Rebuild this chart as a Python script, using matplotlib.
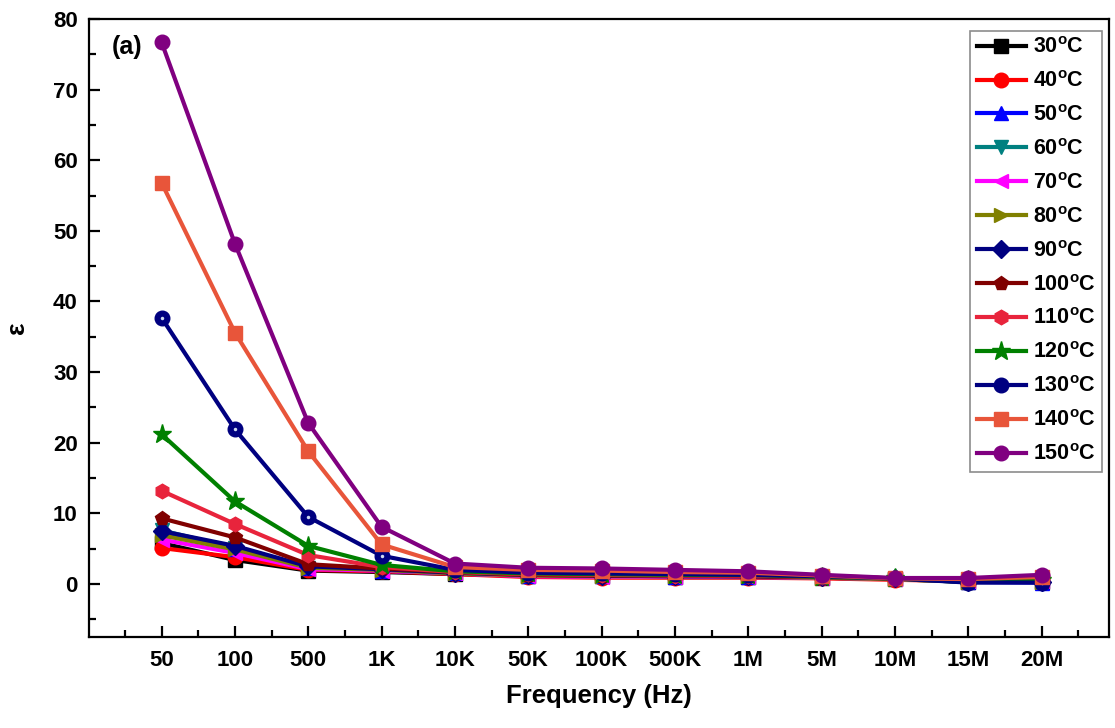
import matplotlib
matplotlib.use("Agg")
from matplotlib import pyplot as plt
from matplotlib.ticker import MultipleLocator

plt.rcParams['font.family'] = ['Liberation Sans', 'DejaVu Sans']
plt.rcParams['font.weight'] = 'bold'
plt.rcParams['mathtext.fontset'] = 'custom'
plt.rcParams['mathtext.rm'] = 'Liberation Sans'
plt.rcParams['mathtext.bf'] = 'Liberation Sans:bold'

freq_labels = ['50', '100', '500', '1K', '10K', '50K', '100K', '500K',
               '1M', '5M', '10M', '15M', '20M']

temps = [30, 40, 50, 60, 70, 80, 90, 100, 110, 120, 130, 140, 150]

eps_30 = [5.8, 3.4, 1.9, 1.7, 1.4, 1.2, 1.1, 1.0, 1.0, 0.9, 0.7, 0.3, 0.3]
eps_40 = [5.1, 3.8, 2.0, 1.8, 1.4, 1.0, 0.9, 0.9, 0.9, 0.8, 0.6, 0.4, 0.4]
eps_50 = [7.4, 5.0, 2.3, 1.9, 1.5, 1.2, 1.1, 1.0, 1.0, 1.0, 0.8, 0.3, 0.2]
eps_60 = [7.6, 5.1, 2.3, 2.0, 1.5, 1.2, 1.1, 1.0, 1.0, 0.9, 0.7, 0.3, 0.3]
eps_70 = [6.3, 4.4, 2.1, 1.9, 1.5, 1.1, 1.0, 1.0, 1.0, 0.9, 0.7, 0.4, 0.4]
eps_80 = [6.9, 4.9, 2.3, 2.0, 1.5, 1.2, 1.1, 1.1, 1.1, 0.9, 0.7, 0.3, 0.3]
eps_90 = [7.5, 5.4, 2.5, 2.1, 1.6, 1.3, 1.2, 1.1, 1.1, 1.0, 0.8, 0.3, 0.3]
eps_100 = [9.3, 6.6, 2.8, 2.2, 1.7, 1.3, 1.2, 1.2, 1.1, 1.0, 0.8, 0.4, 0.4]
eps_110 = [13.2, 8.5, 4.1, 2.4, 1.7, 1.4, 1.3, 1.2, 1.2, 1.0, 0.8, 0.5, 0.6]
eps_120 = [21.2, 11.7, 5.4, 2.7, 1.8, 1.5, 1.4, 1.3, 1.3, 1.0, 0.8, 0.5, 0.6]
eps_130 = [37.7, 21.9, 9.5, 4.0, 2.0, 1.6, 1.5, 1.4, 1.3, 1.1, 0.8, 0.2, 0.2]
eps_140 = [56.8, 35.6, 18.8, 5.6, 2.4, 2.0, 1.9, 1.7, 1.6, 1.2, 0.8, 0.7, 1.0]
eps_150 = [76.7, 48.2, 22.8, 8.1, 2.9, 2.3, 2.2, 2.0, 1.8, 1.3, 0.85, 0.85, 1.3]

all_eps = [eps_30, eps_40, eps_50, eps_60, eps_70, eps_80, eps_90,
           eps_100, eps_110, eps_120, eps_130, eps_140, eps_150]

colors = ['black', '#FF0000', '#0000FF', '#008080', '#FF00FF', '#808000',
          '#000080', '#800000', '#E8243C', '#008000', '#000080', '#E8553A',
          '#800080']
markers = ['s', 'o', '^', 'v', '<', '>', 'D', 'p', 'h', '*', 'o', 's', 'o']

x = list(range(len(freq_labels)))

fig = plt.figure(figsize=(11.15, 7.28), dpi=100)
ax = fig.add_axes([0.0798, 0.125, 0.9148, 0.849])

for i in range(len(temps)):
    ms = 10.5
    if markers[i] == '*':
        ms = 14
    elif markers[i] in ('s', 'D'):
        ms = 9.5
    ax.plot(x, all_eps[i], color=colors[i], marker=markers[i],
            markersize=ms, linewidth=3,
            label=r'%d$^{\mathrm{o}}$C' % temps[i])
    if i == 10:
        # small highlight so the 130 C marker looks like a ball
        ax.plot(x, all_eps[i], linestyle='none', marker='o', markersize=2.5,
                markerfacecolor='#D0DCF0', markeredgecolor='none')

ax.set_xlim(-0.99, 12.92)
ax.set_ylim(-7.5, 80)
ax.set_xticks(x)
ax.set_xticklabels(freq_labels)
ax.xaxis.set_minor_locator(MultipleLocator(0.5))
ax.yaxis.set_major_locator(MultipleLocator(10))
ax.yaxis.set_minor_locator(MultipleLocator(5))

ax.tick_params(which='both', direction='in', width=1.6, labelsize=16,
               top=False, right=False)
ax.tick_params(which='major', length=8)
ax.tick_params(which='minor', length=5)
ax.tick_params(axis='x', pad=9)
ax.tick_params(axis='y', pad=8)
for s in ax.spines.values():
    s.set_linewidth(1.6)

ax.set_xlabel('Frequency (Hz)', fontsize=18.5, fontweight='bold', labelpad=10)
ax.set_ylabel('\u03b5', fontsize=19, fontweight='bold', labelpad=17)

ax.text(0.022, 0.955, '(a)', transform=ax.transAxes, fontsize=18,
        fontweight='bold', va='center', ha='left')

leg = ax.legend(loc='upper right', bbox_to_anchor=(0.993, 0.981),
                fontsize=15.5, frameon=True, fancybox=False, handlelength=2.3,
                handletextpad=0.3, borderpad=0.3, labelspacing=0.6,
                borderaxespad=0)
leg.get_frame().set_edgecolor('#707070')
leg.get_frame().set_linewidth(1.2)

fig.savefig('out.png', dpi=100)
